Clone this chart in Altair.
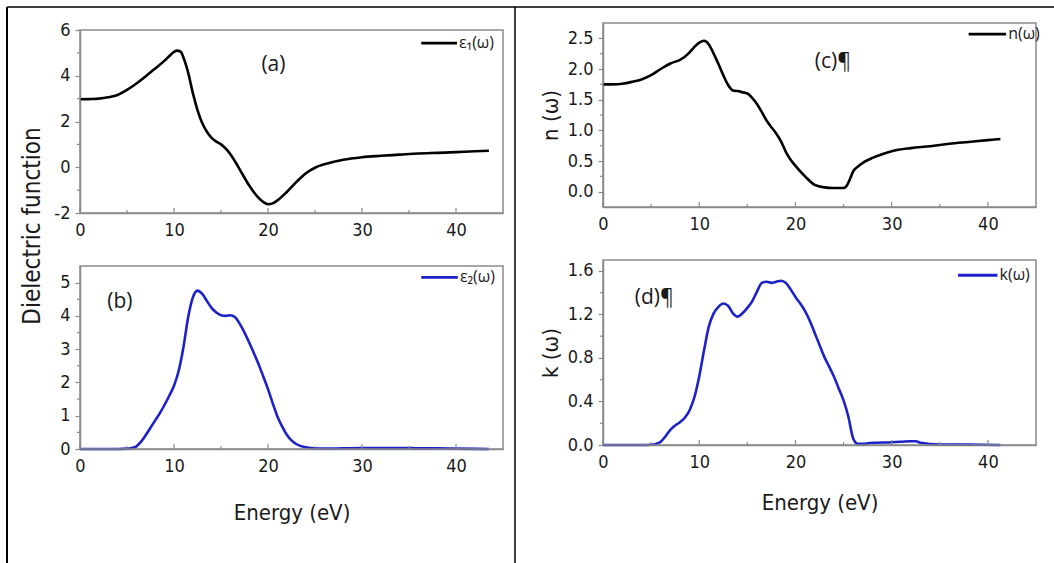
import altair as alt
import pandas as pd

# ---------------- data ----------------
# (a) real part of the dielectric function eps1(omega)
A_E = [0, 1, 2, 3, 4, 5, 6, 7, 8, 9, 9.5, 10, 10.3, 10.7, 11, 11.5, 12, 12.5, 13, 13.5,
       14, 14.5, 15, 15.5, 16, 16.5, 17, 18, 19, 19.5, 20, 20.5, 21, 22, 23, 24, 25, 26,
       27, 28, 30, 32, 34, 36, 38, 40, 42, 43.5]
A_V = [2.97, 2.98, 3.0, 3.06, 3.16, 3.38, 3.66, 3.98, 4.32, 4.66, 4.86, 5.04, 5.1, 5.05,
       4.8, 4.15, 3.25, 2.5, 1.93, 1.55, 1.28, 1.12, 1.0, 0.82, 0.57, 0.25, -0.1, -0.8,
       -1.34, -1.52, -1.62, -1.58, -1.45, -1.08, -0.65, -0.27, -0.02, 0.13, 0.24, 0.33,
       0.44, 0.5, 0.55, 0.6, 0.63, 0.66, 0.7, 0.72]

# (b) imaginary part eps2(omega)
B_E = [0, 2, 4, 5, 5.5, 6, 6.5, 7, 7.5, 8, 8.5, 9, 9.5, 10, 10.5, 11, 11.5, 12, 12.5, 13,
       13.5, 14, 14.5, 15, 15.5, 16, 16.5, 17, 17.5, 18, 18.5, 19, 19.5, 20, 20.5, 21,
       21.5, 22, 22.5, 23, 24, 25, 26, 28, 30, 32, 34, 36, 38, 40, 43.5]
B_V = [0, 0, 0, 0.01, 0.03, 0.08, 0.22, 0.42, 0.64, 0.86, 1.08, 1.33, 1.6, 1.9, 2.35,
       3.05, 3.95, 4.55, 4.76, 4.66, 4.45, 4.24, 4.1, 4.02, 4.0, 4.02, 3.96, 3.76, 3.5,
       3.2, 2.88, 2.55, 2.18, 1.8, 1.38, 0.98, 0.68, 0.43, 0.26, 0.15, 0.05, 0.02, 0.01,
       0.02, 0.03, 0.03, 0.03, 0.02, 0.02, 0.01, 0.0]

# (c) refractive index n(omega)
C_E = [0, 1, 2, 3, 4, 5, 6, 7, 8, 8.5, 9, 9.5, 10, 10.5, 11, 11.5, 12, 12.5, 13, 13.5, 14,
       14.5, 15, 15.5, 16, 16.5, 17, 17.5, 18, 18.5, 19, 19.5, 20, 21, 22, 23, 24, 25,
       25.3, 25.7, 26, 26.5, 27, 28, 29, 30, 32, 34, 36, 38, 40, 41.3]
C_V = [1.75, 1.75, 1.76, 1.79, 1.83, 1.9, 2.0, 2.09, 2.15, 2.2, 2.27, 2.36, 2.43, 2.46,
       2.4, 2.25, 2.08, 1.9, 1.74, 1.65, 1.64, 1.62, 1.6, 1.53, 1.43, 1.3, 1.16, 1.05,
       0.95, 0.82, 0.65, 0.52, 0.42, 0.25, 0.11, 0.07, 0.06, 0.06, 0.09, 0.22, 0.33,
       0.41, 0.47, 0.55, 0.61, 0.66, 0.71, 0.74, 0.78, 0.81, 0.84, 0.86]

# (d) extinction coefficient k(omega)
D_E = [0, 2, 4, 5, 5.5, 6, 6.5, 7, 7.5, 8, 8.5, 9, 9.5, 10, 10.5, 11, 11.5, 12, 12.5, 13,
       13.5, 14, 14.5, 15, 15.5, 16, 16.5, 17, 17.5, 18, 18.5, 19, 19.5, 20, 20.5, 21,
       21.5, 22, 22.5, 23, 23.5, 24, 24.5, 25, 25.5, 26, 26.5, 27, 28, 30, 31, 32, 32.5,
       33, 35, 38, 41.3]
D_V = [0, 0, 0, 0.003, 0.01, 0.03, 0.08, 0.14, 0.18, 0.21, 0.25, 0.32, 0.44, 0.63, 0.87,
       1.09, 1.21, 1.27, 1.3, 1.28, 1.21, 1.18, 1.21, 1.26, 1.32, 1.41, 1.49, 1.5, 1.49,
       1.5, 1.51, 1.49, 1.43, 1.36, 1.3, 1.23, 1.14, 1.03, 0.92, 0.81, 0.72, 0.63, 0.52,
       0.41, 0.26, 0.06, 0.01, 0.01, 0.02, 0.025, 0.03, 0.035, 0.035, 0.02, 0.005, 0.003,
       0.0]

X_MAJOR = [0, 10, 20, 30, 40]
X_MINOR = [5, 15, 25, 35]
A_YMAJOR = [-2, 0, 2, 4, 6]
A_YMINOR = [-1, 1, 3, 5]
B_YMAJOR = [0, 1, 2, 3, 4, 5]
B_YMINOR = [0.5, 1.5, 2.5, 3.5, 4.5]
C_YMAJOR = [0.0, 0.5, 1.0, 1.5, 2.0, 2.5]
C_YMINOR = [0.25, 0.75, 1.25, 1.75, 2.25]
D_YMAJOR = [0.0, 0.4, 0.8, 1.2, 1.6]
D_YMINOR = [0.2, 0.6, 1.0, 1.4]

# ---------------- styling ----------------
W, H = 1054, 563
GRAY = "#8a8a8a"
INK = "#1a1a1a"
BLACK = "#000000"
BLUE = "#1c22c8"
NARROW = "DejaVu Sans Condensed, Liberation Sans Narrow, Liberation Sans, sans-serif"
ROUND = "Open Sans, Lato, sans-serif"
HYPHEN = "replace(datum.label, '\u2212', '-')"


def panel(E, V, color, xr, yr, ydom, ymajor, yminor, yfmt, legend, leg, label, lab,
          xtitle=None, ytitle=None, xtpad=0, ytpad=0):
    df = pd.DataFrame({"E": E, "v": V})
    one = pd.DataFrame({"k": [0]})
    xs = alt.Scale(domain=[0, 45], range=xr, nice=False, zero=False)
    ys = alt.Scale(domain=ydom, range=yr, nice=False, zero=False)
    xaxis = alt.Axis(orient="bottom", offset=yr[0] - H, values=X_MAJOR, ticks=False,
                     grid=False, domainColor=GRAY, domainWidth=1.5, labelFont=NARROW,
                     labelFontSize=18, labelColor=INK, labelPadding=8, labelFlush=False,
                     labelOverlap=False, title=xtitle, titleFont=NARROW, titleFontSize=22,
                     titleFontWeight="normal", titleColor=INK, titlePadding=xtpad)
    yaxis = alt.Axis(orient="left", offset=-xr[0], values=ymajor, format=yfmt,
                     labelExpr=HYPHEN,
                     tickSize=5, tickColor=GRAY, tickWidth=1.2, domainColor=GRAY,
                     domainWidth=1.5, grid=False, labelFont=NARROW, labelFontSize=18,
                     labelColor=INK, labelPadding=5, labelOverlap=False, title=ytitle,
                     titleFont=NARROW, titleFontSize=22, titleFontWeight="normal",
                     titleColor=INK, titlePadding=ytpad)
    line = alt.Chart(df).mark_line(color=color, strokeWidth=2.6, interpolate="monotone").encode(
        x=alt.X("E:Q", scale=xs, axis=xaxis),
        y=alt.Y("v:Q", scale=ys, axis=yaxis),
    )
    frame = alt.Chart(one).mark_rect(fillOpacity=0, stroke=GRAY, strokeWidth=1.5).encode(
        x=alt.datum(0), x2=alt.datum(45), y=alt.datum(ydom[0]), y2=alt.datum(ydom[1])
    )
    xmaj = alt.Chart(pd.DataFrame({"E": X_MAJOR})).mark_rule(
        color=GRAY, strokeWidth=1.2, y2Offset=-5).encode(
        x="E:Q", y=alt.datum(ydom[0]), y2=alt.datum(ydom[0]))
    xmin = alt.Chart(pd.DataFrame({"E": X_MINOR})).mark_rule(
        color=GRAY, strokeWidth=1.2, y2Offset=-3).encode(
        x="E:Q", y=alt.datum(ydom[0]), y2=alt.datum(ydom[0]))
    ymin = alt.Chart(pd.DataFrame({"v": yminor})).mark_rule(
        color=GRAY, strokeWidth=1.2, x2Offset=-3).encode(
        y="v:Q", x=alt.datum(0), x2=alt.datum(0))
    legline = alt.Chart(one).mark_rule(color=color, strokeWidth=2.8).encode(
        x=alt.datum(leg[0]), x2=alt.datum(leg[1]), y=alt.datum(leg[2]))
    legtext = alt.Chart(one).mark_text(align="left", baseline="middle", dx=2, font=ROUND,
                                       fontSize=16, color=INK).encode(
        x=alt.datum(leg[1]), y=alt.datum(leg[2]), text=alt.value(legend))
    labtext = alt.Chart(one).mark_text(align="left", baseline="middle", font=ROUND,
                                       fontSize=21, color=INK).encode(
        x=alt.datum(lab[0]), y=alt.datum(lab[1]), text=alt.value(label))
    return alt.layer(line, frame, xmaj, xmin, ymin, legline, legtext, labtext)


pa = panel(A_E, A_V, BLACK, [80, 503], [213, 30], [-2, 6], A_YMAJOR, A_YMINOR, "d",
           "ε₁(ω)", (36.3, 40.1, 5.43), "(a)", (19.3, 4.47))
pb = panel(B_E, B_V, BLUE, [80, 503], [449, 266], [0, 5.5], B_YMAJOR, B_YMINOR, "d",
           "ε₂(ω)", (36.3, 40.2, 5.16), "(b)", (2.9, 4.43),
           xtitle="Energy (eV)", xtpad=27)
pc = panel(C_E, C_V, BLACK, [603, 1036], [207, 23], [-0.25, 2.75], C_YMAJOR, C_YMINOR,
           ".1f", "n(ω)", (38.0, 41.9, 2.57), "(c)¶", (22.0, 2.12),
           ytitle="n (ω)", ytpad=5)
pd_ = panel(D_E, D_V, BLUE, [603, 1036], [445, 260], [0, 1.7], D_YMAJOR, D_YMINOR,
            ".1f", "k(ω)", (36.9, 41.0, 1.56), "(d)¶", (3.3, 1.35),
            xtitle="Energy (eV)", xtpad=21, ytitle="k (ω)", ytpad=5)

one = pd.DataFrame({"k": [0]})
# table cell borders around the two figure halves
top_line = alt.Chart(one).mark_rule(color=BLACK, strokeWidth=1.5).encode(
    x=alt.value(7), x2=alt.value(W), y=alt.value(7))
left_line = alt.Chart(one).mark_rule(color=BLACK, strokeWidth=2).encode(
    x=alt.value(7), y=alt.value(7), y2=alt.value(H))
mid_line = alt.Chart(one).mark_rule(color=BLACK, strokeWidth=1.5).encode(
    x=alt.value(515), y=alt.value(7), y2=alt.value(H))
ytitle_left = alt.Chart(one).mark_text(angle=270, baseline="middle", align="center",
                                       font=NARROW, fontSize=24, color=INK).encode(
    x=alt.value(33), y=alt.value(226), text=alt.value("Dielectric function"))

chart = (
    alt.layer(top_line, left_line, mid_line, ytitle_left, pa, pb, pc, pd_)
    .resolve_scale(x="independent", y="independent")
    .resolve_axis(x="independent", y="independent")
    .properties(width=W, height=H, padding=0,
                autosize=alt.AutoSizeParams(type="none"), background="white")
    .configure_view(strokeWidth=0)
)

chart.save("out.html", embed_options={"renderer": "svg", "actions": False})
